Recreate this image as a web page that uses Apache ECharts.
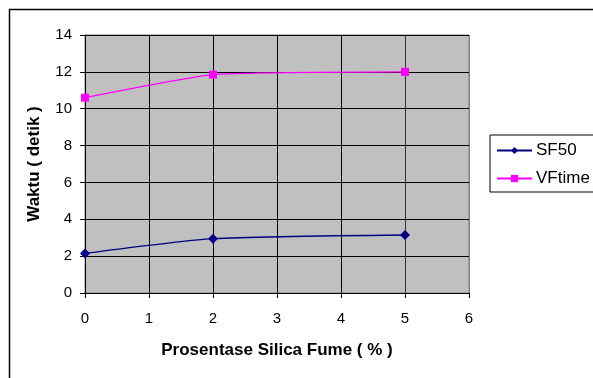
<!DOCTYPE html>
<html><head><meta charset="utf-8">
<script src="https://cdn.jsdelivr.net/npm/echarts@6/dist/echarts.min.js"></script>
<style>html,body{margin:0;padding:0;background:#fff}#c{width:593px;height:378px}</style>
</head><body><div id="c"></div>
<script>
const xValues = [0, 2, 5];
const sf50 = [2.15, 2.95, 3.15];
const vftime = [10.6, 11.85, 12.0];
const seriesNames = ['SF50', 'VFtime'];
const xTitle = 'Prosentase Silica Fume ( % )';
const yTitle = 'Waktu ( detik )';

const FONT = '"Liberation Sans", Arial, sans-serif';
const chart = echarts.init(document.getElementById('c'), null, {renderer: 'canvas'});
chart.setOption({
  animation: false,
  backgroundColor: '#fff',
  textStyle: {fontFamily: FONT},
  graphic: [{
    type: 'rect', left: 7, top: 7, shape: {x: 0, y: 0, width: 700, height: 500},
    style: {fill: 'none', stroke: '#000', lineWidth: 1.5}, silent: true, z: -10
  }],
  grid: {left: 85, right: 124, top: 35, bottom: 85, show: true, backgroundColor: '#C0C0C0', borderColor: '#808080', borderWidth: 1},
  legend: {
    orient: 'vertical', left: 490, top: 135, width: 102,
    padding: [7, 20, 5, 6], itemGap: 11, itemWidth: 35, itemHeight: 9,
    borderColor: '#000', borderWidth: 1, backgroundColor: '#fff',
    textStyle: {fontFamily: FONT, fontSize: 17, color: '#000', padding: [0, 0, 0, -1]},
    data: seriesNames
  },
  xAxis: {
    type: 'value', min: 0, max: 6, interval: 1,
    name: xTitle, nameLocation: 'middle', nameGap: 49,
    nameTextStyle: {fontFamily: FONT, fontSize: 17, fontWeight: 'bold', color: '#000'},
    axisLine: {show: true, onZero: false, lineStyle: {color: '#000', width: 1}},
    axisTick: {show: true, length: 5, lineStyle: {color: '#000'}},
    axisLabel: {margin: 18, fontFamily: FONT, fontSize: 15, color: '#000'},
    splitLine: {show: true, lineStyle: {color: ['#000','#000','#000','#000','#000','#333','#808080'], width: 1}}
  },
  yAxis: {
    type: 'value', min: 0, max: 14, interval: 2,
    name: yTitle, nameLocation: 'middle', nameGap: 42, nameRotate: 90,
    nameTextStyle: {fontFamily: FONT, fontSize: 17, fontWeight: 'bold', color: '#000'},
    axisLine: {show: true, onZero: false, lineStyle: {color: '#000', width: 1}},
    axisTick: {show: true, length: 5, lineStyle: {color: '#000'}},
    axisLabel: {margin: 13, fontFamily: FONT, fontSize: 15, color: '#000'},
    splitLine: {show: true, lineStyle: {color: '#000', width: 1}}
  },
  series: [
    {
      name: seriesNames[0], type: 'line', smooth: 0.2,
      data: xValues.map((x, i) => [x, sf50[i]]),
      symbol: 'diamond', symbolSize: 10,
      lineStyle: {color: '#000080', width: 1.4},
      itemStyle: {color: '#000080'}
    },
    {
      name: seriesNames[1], type: 'line', smooth: 0.15,
      data: xValues.map((x, i) => [x, vftime[i]]),
      symbol: 'rect', symbolSize: 8,
      lineStyle: {color: '#FF00FF', width: 1.4},
      itemStyle: {color: '#FF00FF'}
    }
  ]
});
</script></body></html>
